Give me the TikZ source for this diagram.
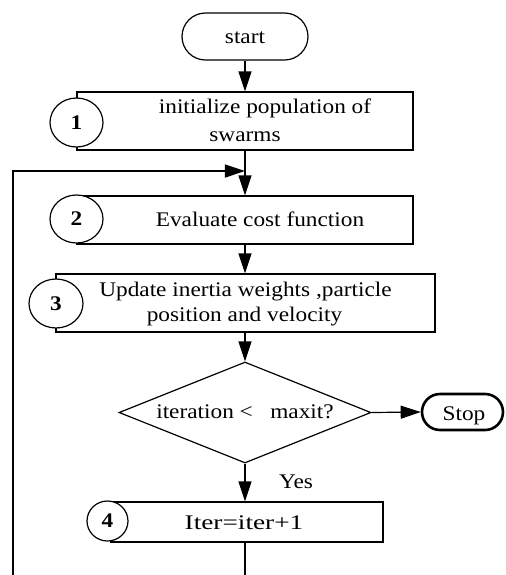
\documentclass[tikz,border=0pt]{standalone}
\usepackage{fontspec}
\usepackage{graphicx}
\setmainfont{Liberation Serif}[FakeStretch=1.12]
\usetikzlibrary{arrows.meta,shapes.geometric,shapes.misc}
\begin{document}
\begin{tikzpicture}[x=0.5pt,y=-0.5pt,
  every node/.style={font=\fontsize{10.4}{14}\selectfont, inner sep=0pt},
  txt/.style={anchor=base},
  box/.style={draw, rectangle, line width=0.6pt},
  num/.style={draw, ellipse, fill=white, line width=0.6pt, font=\fontsize{10.4}{12}\selectfont\bfseries},
  term/.style={draw, rounded rectangle, line width=0.6pt},
  arr/.style={line width=0.6pt, -{Triangle[length=10pt,width=6.5pt]}},
  ln/.style={line width=0.6pt}]
\useasboundingbox (0,0) rectangle (506,575);

% start
\node[term, minimum width=63pt, minimum height=23.5pt] (start) at (245,36.5) {};
\node[txt] (tstart) at (245,43.3) {start};

% box 1
\node[box, minimum width=168pt, minimum height=29pt] (b1) at (245,121) {};
\node[num, minimum width=26.5pt, minimum height=24.5pt] (c1) at (76.5,122.5) {1};
\node[txt] (t1a) at (265,113.3) {initialize population of};
\node[txt] (t1b) at (245,141.7) {swarms};

% box 2
\node[box, minimum width=168pt, minimum height=24pt] (b2) at (245,220) {};
\node[num, minimum width=26.5pt, minimum height=24pt] (c2) at (76.5,219) {2};
\node[txt] (t2) at (260,226.7) {Evaluate cost function};

% box 3
\node[box, minimum width=189.5pt, minimum height=29pt] (b3) at (245.5,303) {};
\node[num, minimum width=27pt, minimum height=24.5pt] (c3) at (56,303.5) {3};
\node[txt] (t3a) at (245.5,296.7) {Update inertia weights ,particle};
\node[txt] (t3b) at (244.5,321.7) {position and velocity};

% decision
\node[draw, diamond, line width=0.6pt, minimum width=126pt, minimum height=50.5pt] (dec) at (245,412.5) {};
\node[txt] (tdec) at (245,418.3) {iteration~<~~~maxit?};

% stop
\node[term, line width=1.3pt, minimum width=40.5pt, minimum height=18pt] (stop) at (462.5,412) {};
\node[txt] (tstop) at (464,420) {Stop};

% yes
\node[txt] (yes) at (296,488.3) {Yes};

% box 4
\node[box, minimum width=136pt, minimum height=20pt] (b4) at (247,522) {};
\node[num, minimum width=20.5pt, minimum height=20pt] (c4) at (107.5,521) {4};
\node[txt] (t4) at (244,529.3) {\scalebox{1.17}[1]{Iter=iter+1}};

% connectors
\coordinate (fbB) at (13,575);
\coordinate (fbT) at (13,171);
\coordinate (fbE) at (245,171);
\coordinate (endB) at (245,575);

\draw[arr] (start.south) -- (start.south |- b1.north);
\draw[arr] (b1.south) -- (b1.south |- b2.north);
\draw[arr] (fbB) -- (fbT) -- (fbE);
\draw[arr] (b2.south) -- (b2.south |- b3.north);
\draw[arr] (b2.south |- b3.south) -- (dec.north);
\draw[arr] (dec.east) -- (stop.west);
\draw[arr] (dec.south) -- (dec.south |- b4.north);
\draw[ln] (dec.south |- b4.south) -- (endB);
\end{tikzpicture}
\end{document}
